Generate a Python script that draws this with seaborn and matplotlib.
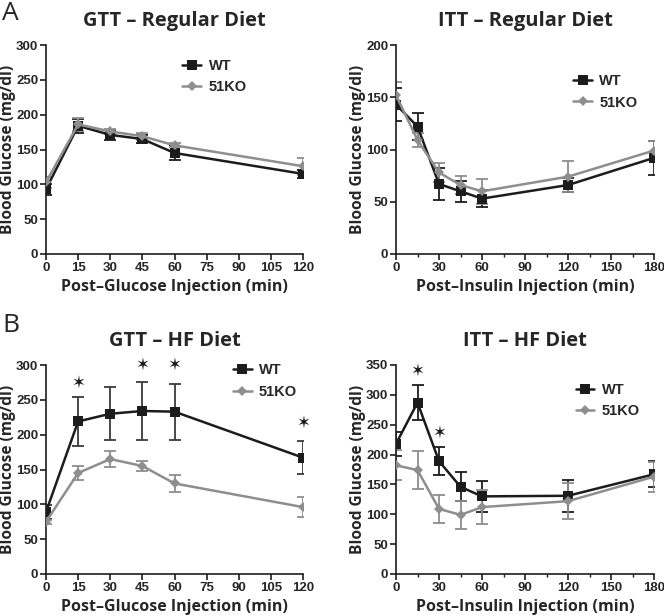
import matplotlib
matplotlib.use('Agg')
import matplotlib.pyplot as plt
from matplotlib.ticker import MultipleLocator
import seaborn as sns
import pandas as pd

# GTT time points (min)
gtt_time = [0, 15, 30, 45, 60, 120]
# ITT time points (min)
itt_time = [0, 15, 30, 45, 60, 120, 180]

# regular diet GTT
gtt_reg_wt = [93, 184, 171, 165, 145, 115]
gtt_reg_wt_err = [8, 10, 7, 6, 10, 6]
gtt_reg_ko = [103, 186, 176, 169, 156, 126]
gtt_reg_ko_err = [8, 9, 4, 5, 3, 12]

# regular diet ITT
itt_reg_wt = [143, 122, 67, 60, 53, 66, 92]
itt_reg_wt_err = [16, 13, 15, 10, 8, 7, 16]
itt_reg_ko = [152, 109, 78, 66, 60, 74, 99]
itt_reg_ko_err = [13, 7, 9, 9, 12, 15, 9]

# HF diet GTT
gtt_hf_wt = [89, 219, 230, 234, 233, 167]
gtt_hf_wt_err = [10, 35, 38, 42, 40, 24]
gtt_hf_ko = [75, 145, 165, 155, 130, 96]
gtt_hf_ko_err = [3, 10, 12, 7, 12, 14]
gtt_hf_star_x = [15, 45, 60, 120]
gtt_hf_star_y = [275, 300, 300, 217]

# HF diet ITT
itt_hf_wt = [218, 287, 189, 146, 130, 131, 167]
itt_hf_wt_err = [20, 29, 23, 24, 26, 27, 22]
itt_hf_ko = [182, 174, 109, 99, 112, 122, 163]
itt_hf_ko_err = [25, 32, 23, 24, 28, 30, 25]
itt_hf_star_x = [15, 30]
itt_hf_star_y = [340, 237]

groups = ['WT', '51KO']
colores = {'WT': '#1c1c1c', '51KO': '#8e8e8e'}
marcas = {'WT': 's', '51KO': 'D'}
tamanos = {'WT': 7.5, '51KO': 5.5}

sns.set_style('ticks')
plt.rcParams['font.family'] = ['Open Sans', 'DejaVu Sans']

fig = plt.figure(figsize=(6.64, 6.16), dpi=100)
W, H = 664, 616


def make_ax(left, top, right, bottom):
    return fig.add_axes([left / W, 1 - bottom / H, (right - left) / W, (bottom - top) / H])


def panel(ax, t, wt, wt_err, ko, ko_err, title, xlabel, xmax, xstep, ymax, ystep,
          minor=None, stars=None, wt_err_col=None):
    df = pd.DataFrame({
        'time': t + t,
        'glucose': wt + ko,
        'err': wt_err + ko_err,
        'group': ['WT'] * len(t) + ['51KO'] * len(t),
    })
    for g in groups:
        d = df[df['group'] == g]
        ecol = colores[g]
        if g == 'WT' and wt_err_col:
            ecol = wt_err_col
        ax.errorbar(d['time'], d['glucose'], yerr=d['err'], fmt='none',
                    ecolor=ecol, elinewidth=1.3, capsize=4.5, capthick=1.3, zorder=2)
    sns.lineplot(data=df, x='time', y='glucose', hue='group', style='group',
                 palette=colores, markers=marcas, dashes=False, hue_order=groups,
                 style_order=groups, linewidth=1.8, markeredgewidth=0,
                 ax=ax, zorder=3, legend=False)
    for line, g in zip(ax.get_lines()[-2:], groups):
        line.set_markersize(tamanos[g])
    if stars:
        for sx, sy in zip(*stars):
            ax.text(sx, sy, '\u2736', ha='center', va='center', fontsize=12,
                    color='#1c1c1c', family='DejaVu Sans')
    ax.set_xlim(0, xmax)
    ax.set_ylim(0, ymax)
    ax.xaxis.set_major_locator(MultipleLocator(xstep))
    ax.yaxis.set_major_locator(MultipleLocator(ystep))
    if minor:
        ax.xaxis.set_minor_locator(MultipleLocator(minor))
    ax.tick_params(axis='both', which='major', length=4, width=1.2, labelsize=9.5,
                   pad=1.5, color='#1c1c1c')
    ax.tick_params(axis='x', which='minor', length=2.5, width=1.0, color='#1c1c1c')
    for lab in ax.get_xticklabels() + ax.get_yticklabels():
        lab.set_fontweight('bold')
        lab.set_family(['Liberation Sans', 'DejaVu Sans'])
    sns.despine(ax=ax)
    for s in ['left', 'bottom']:
        ax.spines[s].set_linewidth(1.2)
        ax.spines[s].set_color('#1c1c1c')
    ax.set_title(title, fontsize=14.5, fontweight='bold', pad=14)
    ax.set_xlabel(xlabel, fontsize=11.5, fontweight='bold', labelpad=4)
    ax.set_ylabel('Blood Glucose (mg/dl)', fontsize=11.2, fontweight='bold')
    ax.yaxis.set_label_coords(-30 / ax.bbox.width, 0.5)


def legend(ax, x, y):
    ax.plot([], [], color=colores['WT'], marker='s', markersize=7.5, lw=1.8,
            label='WT', markeredgewidth=0)
    ax.plot([], [], color=colores['51KO'], marker='D', markersize=5.5, lw=1.8,
            label='51KO', markeredgewidth=0)
    ax.legend(loc='upper left', bbox_to_anchor=(x, y), frameon=False,
              handlelength=1.3, handletextpad=0.5, labelspacing=0.5,
              prop={'weight': 'bold', 'size': 10.5, 'family': ['Liberation Sans']})


ax1 = make_ax(46, 45, 303, 254)
panel(ax1, gtt_time, gtt_reg_wt, gtt_reg_wt_err, gtt_reg_ko, gtt_reg_ko_err,
      'GTT \u2013 Regular Diet', 'Post\u2013Glucose Injection (min)', 120, 15, 300, 50)
legend(ax1, 0.48, 0.995)

ax2 = make_ax(396, 45, 654, 254)
panel(ax2, itt_time, itt_reg_wt, itt_reg_wt_err, itt_reg_ko, itt_reg_ko_err,
      'ITT \u2013 Regular Diet', 'Post\u2013Insulin Injection (min)', 180, 30, 200, 50,
      minor=15)
legend(ax2, 0.636, 0.923)

ax3 = make_ax(46, 365, 303, 574)
panel(ax3, gtt_time, gtt_hf_wt, gtt_hf_wt_err, gtt_hf_ko, gtt_hf_ko_err,
      'GTT \u2013 HF Diet', 'Post\u2013Glucose Injection (min)', 120, 15, 300, 50,
      stars=(gtt_hf_star_x, gtt_hf_star_y), wt_err_col='#3a3a3a')
legend(ax3, 0.675, 1.07)

ax4 = make_ax(396, 365, 654, 574)
panel(ax4, itt_time, itt_hf_wt, itt_hf_wt_err, itt_hf_ko, itt_hf_ko_err,
      'ITT \u2013 HF Diet', 'Post\u2013Insulin Injection (min)', 180, 30, 350, 50,
      minor=15, stars=(itt_hf_star_x, itt_hf_star_y))
legend(ax4, 0.645, 0.976)

fig.text(2 / W, 1 - 14 / H, 'A', fontsize=19, va='center', ha='left')
fig.text(2 / W, 1 - 326 / H, 'B', fontsize=19, va='center', ha='left')

fig.savefig('out.png', dpi=100, facecolor='white')
